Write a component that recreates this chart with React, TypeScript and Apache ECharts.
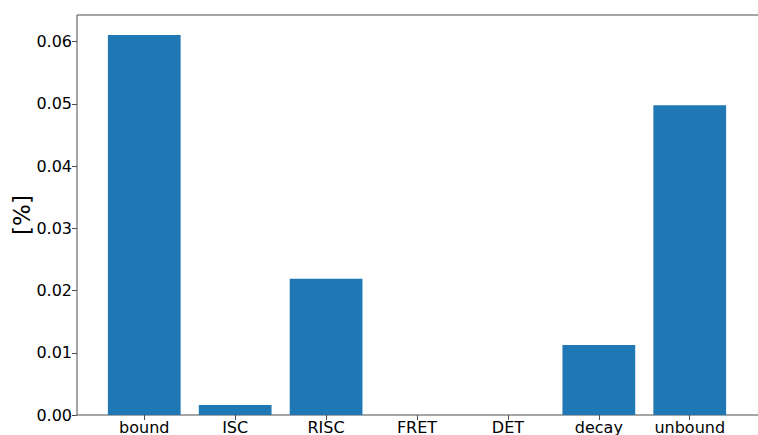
import React, { useEffect, useRef } from "react";
import * as echarts from "echarts";

const categories = ["bound", "ISC", "RISC", "FRET", "DET", "decay", "unbound"];
const values = [0.0611, 0.0016, 0.0219, 0, 0, 0.01125, 0.0498];
const yTicks = [0, 0.01, 0.02, 0.03, 0.04, 0.05, 0.06];
const yLabel = "[%]";

export default function App() {
  const ref = useRef<HTMLDivElement>(null);
  useEffect(() => {
    if (!ref.current) return;
    const chart = echarts.init(ref.current, undefined, { renderer: "svg" });
    const font = "DejaVu Sans";
    const axisColor = "#4d4d4d";
    const L = 77;
    const T = 15;
    const B = 415;
    const R = 758;
    const margin = 21.8;
    chart.setOption({
      animation: false,
      textStyle: { fontFamily: font },
      grid: {
        left: L + margin,
        right: 758 - (R - 1 - margin),
        top: T,
        bottom: 435 - B,
        containLabel: false,
        outerBoundsMode: "none",
      },
      xAxis: {
        type: "category",
        data: categories,
        boundaryGap: true,
        axisLine: { show: false },
        axisTick: { show: true, alignWithLabel: true, length: 5, lineStyle: { color: axisColor } },
        axisLabel: { color: "#000", fontSize: 16, fontFamily: font, margin: 4, interval: 0 },
        splitLine: { show: false },
      },
      yAxis: {
        type: "value",
        min: 0,
        max: 0.0643,
        interval: 0.01,
        offset: margin,
        name: yLabel,
        nameLocation: "middle",
        nameGap: 44,
        nameMoveOverlap: false,
        nameTextStyle: { color: "#000", fontSize: 23, fontFamily: font },
        axisLine: { show: false },
        axisTick: { show: true, length: 5, lineStyle: { color: axisColor }, customValues: yTicks },
        axisLabel: {
          color: "#000",
          fontSize: 16,
          fontFamily: font,
          margin: 5,
          customValues: yTicks,
          formatter: (v: number) => v.toFixed(2),
        },
        splitLine: { show: false },
      },
      graphic: [
        { type: "line", silent: true, shape: { x1: L, y1: T, x2: L, y2: B }, style: { stroke: axisColor, lineWidth: 1 } },
        { type: "line", silent: true, shape: { x1: L, y1: B, x2: R, y2: B }, style: { stroke: axisColor, lineWidth: 1 } },
        { type: "line", silent: true, shape: { x1: L, y1: T, x2: R, y2: T }, style: { stroke: axisColor, lineWidth: 1 } },
      ],
      series: [
        {
          type: "bar",
          data: values,
          barWidth: "80%",
          itemStyle: { color: "#1f77b4" },
        },
      ],
    });
    return () => chart.dispose();
  }, []);
  return (
    <div
      ref={ref}
      style={{ position: "absolute", left: 0, top: 0, width: 758, height: 435 }}
    />
  );
}
